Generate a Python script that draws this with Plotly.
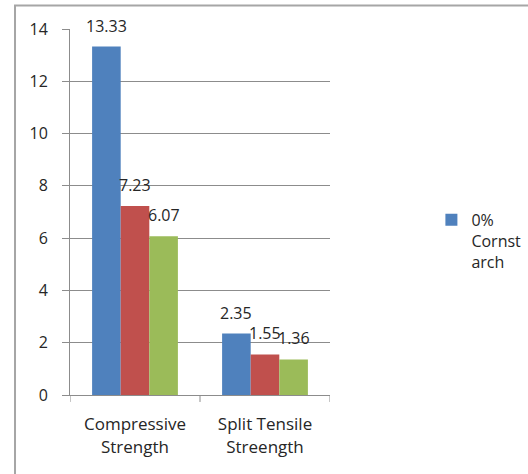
import plotly.graph_objects as go

categories = ["Compressive<br>Strength", "Split Tensile<br>Streength"]
series_names = ["0%<br>Cornst<br>arch", "5% Cornstarch", "10% Cornstarch"]
values_0 = [13.33, 2.35]
values_1 = [7.23, 1.55]
values_2 = [6.07, 1.36]
colors = ["#4F81BD", "#C0504D", "#9BBB59"]
y_ticks = [0, 2, 4, 6, 8, 10, 12, 14]

FONT = "Open Sans"
GRID = "#8c8c8c"
TEXT = "#262626"
all_values = [values_0, values_1, values_2]

bar_w = 0.22
offsets = [-1.5 * bar_w, -0.5 * bar_w, 0.5 * bar_w]

fig = go.Figure()
for i, (name, vals, col) in enumerate(zip(series_names, all_values, colors)):
    fig.add_trace(go.Bar(
        x=list(range(len(categories))),
        y=vals,
        name=name,
        width=bar_w,
        offset=offsets[i],
        marker=dict(color=col, line=dict(width=0)),
        showlegend=(i == 0),
    ))
    # value labels above each bar
    for j, v in enumerate(vals):
        fig.add_annotation(
            x=j + offsets[i] + bar_w / 2, y=v, xref="x", yref="y",
            text=f"{v:.2f}", showarrow=False, yanchor="middle", yshift=21,
            font=dict(family=FONT, size=16, color=TEXT),
        )

# outer chart frame
fig.add_shape(type="rect", xref="paper", yref="paper",
              x0=-0.2115, x1=2.5, y0=-0.5, y1=1.064,
              line=dict(color="#a6a6a6", width=2), fillcolor="rgba(0,0,0,0)",
              layer="below")

fig.update_layout(
    width=528, height=474,
    margin=dict(l=70, r=198, t=29, b=79, autoexpand=False),
    paper_bgcolor="white", plot_bgcolor="white",
    barmode="overlay",
    font=dict(family=FONT, size=16, color=TEXT),
    xaxis=dict(
        tickmode="array", tickvals=list(range(len(categories))), ticktext=categories,
        range=[-0.5, len(categories) - 0.5],
        showgrid=False, showline=True, linecolor=GRID, linewidth=1,
        ticks="", zeroline=False, ticklabelstandoff=14,
        tickfont=dict(family=FONT, size=17, color=TEXT),
    ),
    yaxis=dict(
        range=[0, 14], tickvals=y_ticks, showgrid=True, gridcolor=GRID, gridwidth=1,
        showline=True, linecolor=GRID, linewidth=1, ticks="outside", ticklen=7,
        tickcolor=GRID, zeroline=False, ticklabelstandoff=11,
        tickfont=dict(family=FONT, size=16, color=TEXT),
    ),
    legend=dict(x=1.39, y=0.525, xanchor="left", yanchor="top", valign="top",
                itemwidth=30,
                font=dict(family=FONT, size=16, color=TEXT),
                bgcolor="rgba(0,0,0,0)"),
)

# category divider ticks below the x axis
for k in range(len(categories) + 1):
    fig.add_shape(type="line", xref="x", yref="paper",
                  x0=k - 0.5, x1=k - 0.5, y0=0, y1=-0.019,
                  line=dict(color=GRID, width=1))

fig.write_html("out.html")
